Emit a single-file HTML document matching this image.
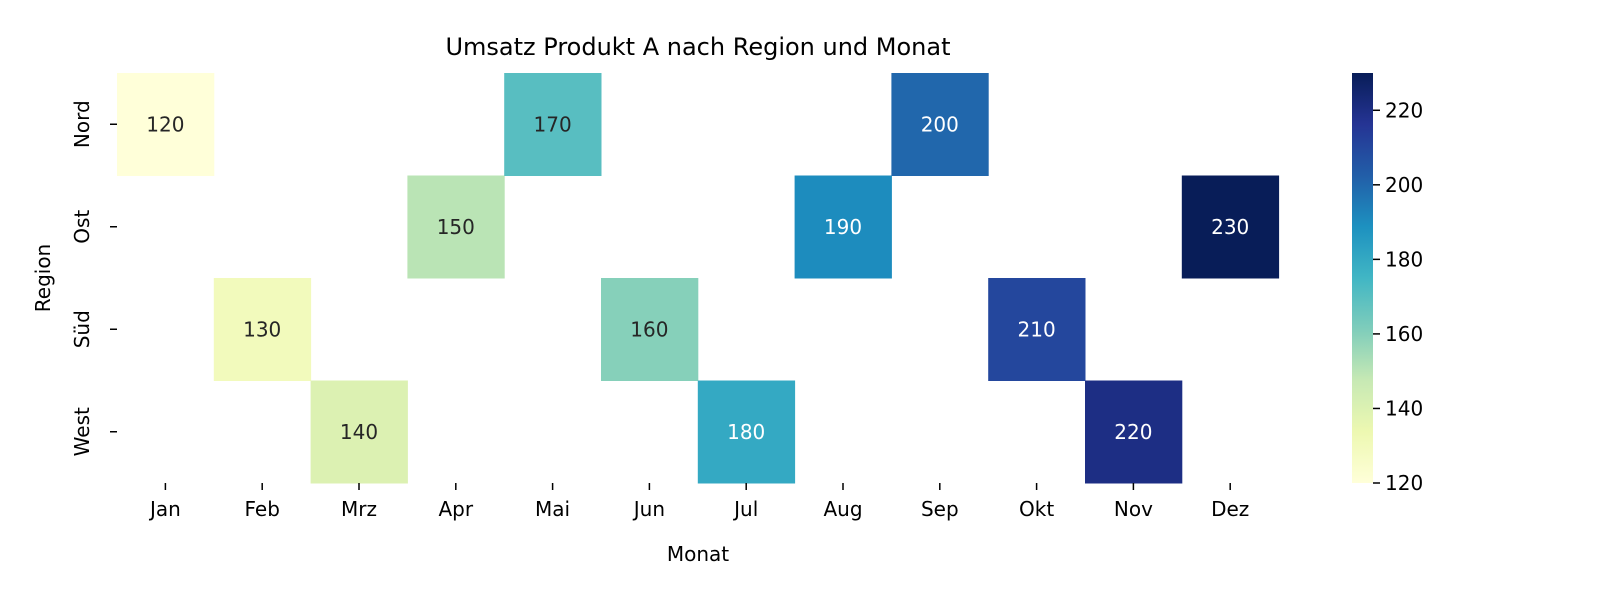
<!DOCTYPE html>
<html><head><meta charset="utf-8"><style>
body{margin:0;background:#fff;font-family:"Liberation Sans","DejaVu Sans",sans-serif;}
svg text{font-family:"DejaVu Sans","Liberation Sans",sans-serif;}
</style></head><body>
<svg id="chart" width="1600" height="600" xmlns="http://www.w3.org/2000/svg">
<defs><linearGradient id="cb" x1="0" y1="1" x2="0" y2="0">
<stop offset="0" stop-color="#ffffd9"/><stop offset="0.125" stop-color="#edf8b1"/><stop offset="0.25" stop-color="#c7e9b4"/><stop offset="0.375" stop-color="#7fcdbb"/><stop offset="0.5" stop-color="#41b6c4"/><stop offset="0.625" stop-color="#1d91c0"/><stop offset="0.75" stop-color="#225ea8"/><stop offset="0.875" stop-color="#253494"/><stop offset="1" stop-color="#081d58"/>
</linearGradient></defs>
<text x="698" y="55" font-size="24" text-anchor="middle">Umsatz Produkt A nach Region und Monat</text>
<g id="cells"></g>
<g id="axes"></g>
<rect x="1352" y="73" width="21" height="410" fill="url(#cb)"/>
<text x="698" y="561" font-size="20" text-anchor="middle">Monat</text>
<text transform="translate(50,278) rotate(-90)" font-size="20" text-anchor="middle">Region</text>
</svg>
<script>
const months=["Jan","Feb","Mrz","Apr","Mai","Jun","Jul","Aug","Sep","Okt","Nov","Dez"];
const regions=["Nord","Ost","Süd","West"];
const cellRegion=["Nord","Süd","West","Ost","Nord","Süd","West","Ost","Nord","Süd","West","Ost"];
const cellValues=[120,130,140,150,170,160,180,190,200,210,220,230];
const cbTicks=[120,140,160,180,200,220];
const vmin=120,vmax=230;
const L=117,T=73,W=96.8,H=102.5;
const x=i=>L+i*W, y=j=>T+j*H;
const cbY=v=>483-(v-vmin)/(vmax-vmin)*410;
const stops=["#ffffd9","#edf8b1","#c7e9b4","#7fcdbb","#41b6c4","#1d91c0","#225ea8","#253494","#081d58"];
function color(v){let t=(v-vmin)/(vmax-vmin)*8;let i=Math.min(7,Math.floor(t));let f=t-i;
const a=stops[i],b=stops[i+1];const p=(s,k)=>parseInt(s.substr(1+2*k,2),16);
return "rgb("+[0,1,2].map(k=>Math.round(p(a,k)+(p(b,k)-p(a,k))*f)).join(",")+")";}
const NS="http://www.w3.org/2000/svg";
const cells=document.getElementById("cells"),axes=document.getElementById("axes");
function mk(tag,attrs,parent,txt){const e=document.createElementNS(NS,tag);for(const k in attrs)e.setAttribute(k,attrs[k]);if(txt!==undefined)e.textContent=txt;parent.appendChild(e);return e;}
cellValues.forEach((v,i)=>{const j=regions.indexOf(cellRegion[i]);
const r=mk("rect",{x:x(i),y:y(j),width:W+0.5,height:H+0.5,fill:color(v)},cells);


const t=mk("text",{x:x(i)+W/2,y:y(j)+H/2+7,"font-size":20,"text-anchor":"middle",fill:(v>=180?"#fff":"#262626")},cells,v);

});
months.forEach((m,i)=>{const cx=x(i)+W/2;
mk("line",{x1:cx,x2:cx,y1:483,y2:490,stroke:"#000","stroke-width":1.5},axes);
const t=mk("text",{x:cx,y:516,"font-size":20,"text-anchor":"middle"},axes,m);

});
regions.forEach((r,j)=>{const cy=y(j)+H/2;
mk("line",{x1:110,x2:117,y1:cy,y2:cy,stroke:"#000","stroke-width":1.5},axes);
const t=mk("text",{transform:"translate(89,"+cy+") rotate(-90)","font-size":20,"text-anchor":"middle"},axes,r);

});
cbTicks.forEach(v=>{const cy=cbY(v);
mk("line",{x1:1373,x2:1380,y1:cy,y2:cy,stroke:"#000","stroke-width":1.5},axes);
const t=mk("text",{x:1385,y:cy+7,"font-size":20},axes,v);

});
</script>
</body></html>
